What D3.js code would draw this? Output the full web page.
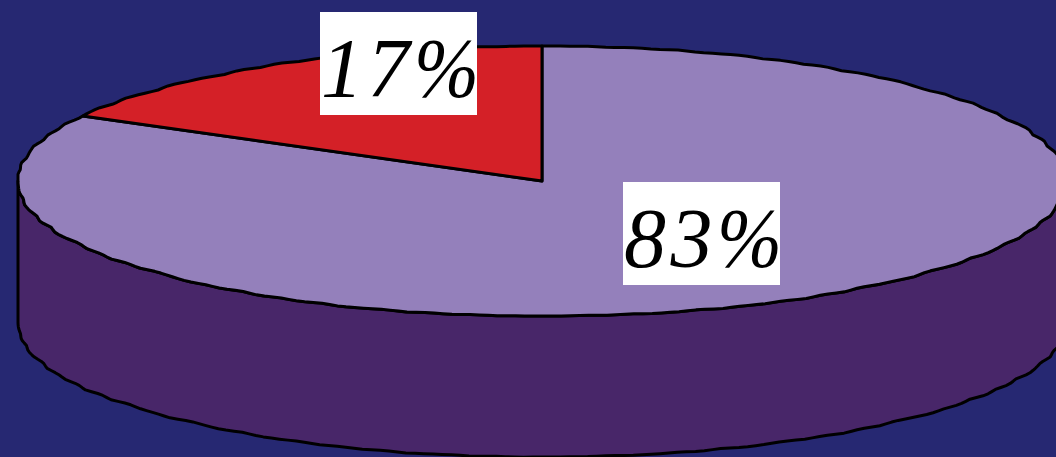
<!DOCTYPE html>
<html>
<head>
<meta charset="utf-8">
<script src="https://cdn.jsdelivr.net/npm/d3@7/dist/d3.min.js"></script>
<style>
  html, body { margin: 0; padding: 0; background: #262872; overflow: hidden; }
  svg { display: block; }
</style>
</head>
<body>
<svg id="chart" width="1056" height="457"></svg>
<script>
// Slice shares, clockwise from twelve o'clock
const sliceNames = ["Majority", "Minority"];
const sliceValues = [83, 17];
const sliceColors = ["#9480bb", "#d42027"];

// Hand-traced roughness of the disc outline; the table is walked twice per turn
const rimRoughness = [
  0, 0, .002, -.002, .003, -.001, .004, -.002, .002, .005, -.002, .004,
  -.001, .005, -.003, .004, .001, .005, 0, -.004, .003, -.002, .005, -.001,
  .003, -.004, .002, .005, -.003, .004, -.002, .002, .003, -.002, .001, 0,
  0, .002, -.001, .003, -.002, .001, .004, -.002, .003, -.001, .004, -.002,
  .002, .004, -.003, .004, 0, -.005, .004, 0, 0, -.005, .004, -.002,
  .006, -.001, .004, .001, .005, -.002, .003, .004, -.001, .002, -.001, 0, 0
];

const width = 1056, height = 457;
const centre = { x: 542, y: 181 };
const radius = { x: 524, y: 135 };
const depth = 141;
const outline = { stroke: "#000", "stroke-width": 3, "stroke-linejoin": "round" };
const labelBox = { width: 157, height: 103, baseline: 85 };
const labelCorners = [[623, 182], [320, 12]];

const svg = d3.select("#chart");
const TAU = 2 * Math.PI;

const roughness = d3.scaleLinear()
  .domain(rimRoughness.map((_, i) => i * TAU / (rimRoughness.length - 1)))
  .range(rimRoughness);

// Unit circle to screen: the disc is a circle seen at a shallow tilt
const sx = d3.scaleLinear().domain([-1, 1]).range([centre.x - radius.x, centre.x + radius.x]);
const sy = d3.scaleLinear().domain([-1, 1]).range([centre.y + radius.y, centre.y - radius.y]);

function rimPoint(angle, drop = 0, phase = 0) {
  const a = (((angle * 2 + phase) % TAU) + TAU) % TAU;
  const r = 1 + roughness(a);
  // The outline never bulges past the disc's left extreme
  return [Math.max(sx(-1), sx(r * Math.sin(angle))), sy(r * Math.cos(angle)) + drop];
}

function rimPoints(a0, a1, drop, phase) {
  const steps = Math.max(2, Math.ceil(Math.abs(a1 - a0) / (TAU / 360)));
  return d3.range(steps + 1).map(i => rimPoint(a0 + (a1 - a0) * i / steps, drop, phase));
}

const line = d3.line();
const pie = d3.pie().sort(null).startAngle(0).endAngle(TAU);
const slices = pie(sliceValues);

// Side wall: straight drop on the left, lower rim along the front
const wallTop = rimPoints(Math.PI / 2, 3 * Math.PI / 2, 0, 0);
const wallBottom = rimPoints(3 * Math.PI / 2, Math.PI / 2, depth, Math.PI);
svg.append("path")
  .attr("d", line([...wallTop, ...wallBottom]) + "Z")
  .attr("fill", "#482669")
  .attr("stroke", outline.stroke)
  .attr("stroke-width", outline["stroke-width"])
  .attr("stroke-linejoin", outline["stroke-linejoin"]);

// Top face
svg.selectAll("path.slice")
  .data(slices)
  .join("path")
  .attr("class", "slice")
  .attr("d", d => line([[sx(0), sy(0)], ...rimPoints(d.startAngle, d.endAngle, 0, 0)]) + "Z")
  .attr("fill", (d, i) => sliceColors[i])
  .attr("stroke", outline.stroke)
  .attr("stroke-width", outline["stroke-width"])
  .attr("stroke-linejoin", outline["stroke-linejoin"]);

// Percentage labels on white plates, each stating its slice's value
const labels = svg.selectAll("g.label")
  .data(sliceValues)
  .join("g")
  .attr("class", "label")
  .attr("transform", (d, i) => `translate(${labelCorners[i]})`);

labels.append("rect")
  .attr("width", labelBox.width)
  .attr("height", labelBox.height)
  .attr("fill", "#fff");

const labelText = labels.append("text")
  .attr("x", 1)
  .attr("y", labelBox.baseline)
  .attr("font-family", "'Liberation Serif', serif")
  .attr("font-style", "italic")
  .attr("font-size", 84)
  .attr("fill", "#000");

labelText.append("tspan")
  .attr("letter-spacing", 4.5)
  .text(d => d);

// The percent sign is set a little narrower than the font draws it
labelText.append("tspan")
  .attr("textLength", 65)
  .attr("lengthAdjust", "spacingAndGlyphs")
  .text("%");
</script>
</body>
</html>
